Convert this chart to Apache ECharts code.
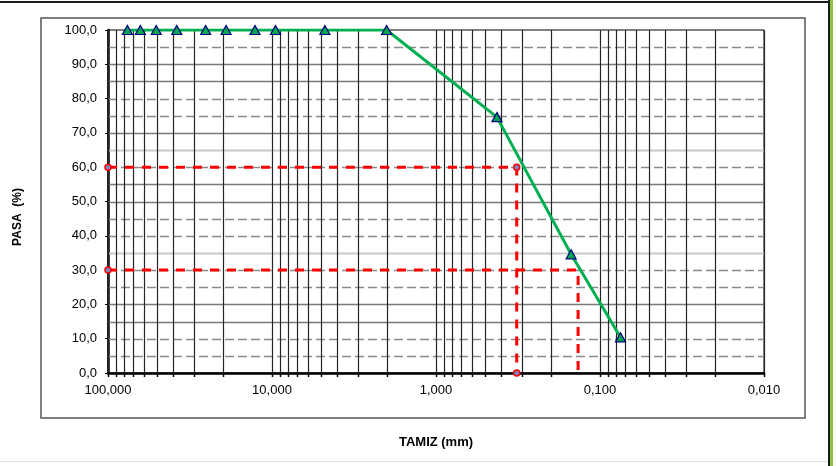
<!DOCTYPE html>
<html>
<head>
<meta charset="utf-8">
<script src="https://cdn.jsdelivr.net/npm/echarts@6/dist/echarts.min.js"></script>
<style>
  html, body { margin: 0; padding: 0; background: #fff; }
  #chart { width: 836px; height: 466px; }
</style>
</head>
<body>
<div id="chart"></div>
<script>
// Sieve openings (mm) and cumulative percent passing
const sieveSizes = [76.2, 63.5, 50.8, 38.1, 25.4, 19.05, 12.7, 9.52, 4.76, 2.0, 0.425, 0.15, 0.075];
const passing    = [100, 100, 100, 100, 100, 100, 100, 100, 100, 100, 74.6, 34.6, 10.4];

// Characteristic diameters read on the curve
const d60 = 0.322;
const d30 = 0.136;

// Horizontal reference levels and their line style
const dashedLevels = [95, 80, 75, 60, 45, 40, 30, 25, 10, 5];
const solidLevels  = [90, 85, 70, 55, 50, 20, 15];
const lightLevels  = [65, 35];

// Log-cycle grid: 1..9 x 10^k between 0.01 and 100 mm
const gridX = [];
for (let k = -2; k <= 1; k++) {
  for (let m = 1; m <= 9; m++) gridX.push(+(m * Math.pow(10, k)).toPrecision(3));
}
gridX.push(100);

const hLines = []
  .concat(dashedLevels.map(v => [1, v, 0]))
  .concat(solidLevels.map(v => [1, v, 1]))
  .concat(lightLevels.map(v => [1, v, 2]));

const comma = (v, d) => Number(v).toFixed(d).replace('.', ',');

const chart = echarts.init(document.getElementById('chart'), null, { renderer: 'canvas' });

const option = {
  animation: false,
  backgroundColor: '#ffffff',
  textStyle: { fontFamily: 'Liberation Sans, Arial, sans-serif' },
  grid: {
    left: 108, right: 72, top: 30, bottom: 93,
    show: true, borderColor: '#000', borderWidth: 1, backgroundColor: 'transparent'
  },
  xAxis: {
    type: 'log', logBase: 10, min: 0.01, max: 100, inverse: true, splitNumber: 4,
    axisLine: { show: true, onZero: false, lineStyle: { color: '#000', width: 2.5 } },
    axisTick: { show: false },
    splitLine: { show: false },
    axisLabel: {
      color: '#000', fontSize: 13, margin: 11,
      formatter: v => comma(v, 3)
    }
  },
  yAxis: {
    type: 'value', min: 0, max: 100, interval: 10,
    axisLine: { show: true, lineStyle: { color: '#000', width: 2.5 } },
    axisTick: { show: true, inside: false, length: 3, lineStyle: { color: '#000', width: 1 } },
    splitLine: { show: false },
    axisLabel: { color: '#000', fontSize: 13, margin: 11, formatter: v => comma(v, 1) }
  },
  graphic: [
    // outer frame
    { type: 'line', shape: { x1: 0, y1: 2, x2: 830, y2: 2 }, style: { stroke: '#1a1a1a', lineWidth: 2 }, z: 100 },
    { type: 'line', shape: { x1: 829, y1: 0, x2: 829, y2: 466 }, style: { stroke: '#1a1a1a', lineWidth: 2 }, z: 100 },
    { type: 'rect', shape: { x: 830, y: 0, width: 3, height: 466 }, style: { fill: '#8cc63f' }, z: 100 },
    { type: 'line', shape: { x1: 0, y1: 461.5, x2: 828, y2: 461.5 }, style: { stroke: '#e0e0e0', lineWidth: 1 }, z: 100 },
    // chart area frame
    { type: 'rect', shape: { x: 41, y: 18, width: 764, height: 400 }, style: { fill: 'none', stroke: '#555', lineWidth: 1.5 }, z: 100 },
    // axis titles
    { type: 'text', x: 18, y: 217, rotation: Math.PI / 2,
      style: { text: 'PASA  (%)', font: 'bold 12px Liberation Sans, Arial, sans-serif', fill: '#000', align: 'center', verticalAlign: 'middle' }, z: 100 },
    { type: 'text', x: 436, y: 442,
      style: { text: 'TAMIZ (mm)', font: 'bold 13px Liberation Sans, Arial, sans-serif', fill: '#000', align: 'center', verticalAlign: 'middle' }, z: 100 }
  ],
  series: [
    {
      // horizontal reference lines
      type: 'custom', z: 1, silent: true,
      data: hLines,
      encode: { x: 0, y: 1 },
      renderItem(params, api) {
        const cs = params.coordSys;
        const y = Math.round(api.coord([1, api.value(1)])[1]) + 0.5;
        const kind = api.value(2);
        const style = kind === 0
          ? { stroke: '#8a8a8a', lineWidth: 1.5, lineDash: [9, 4] }
          : kind === 1 ? { stroke: '#7a7a7a', lineWidth: 1.5 }
          : { stroke: '#c8c8c8', lineWidth: 2 };
        return { type: 'line', shape: { x1: cs.x, y1: y, x2: cs.x + cs.width, y2: y }, style };
      }
    },
    {
      // log-cycle vertical lines with ticks below the axis
      type: 'custom', z: 2, silent: true,
      data: gridX.map(v => [v, 0]),
      encode: { x: 0, y: 1 },
      renderItem(params, api) {
        const v = api.value(0);
        const top = api.coord([v, 100]);
        const bot = api.coord([v, 0]);
        const x = Math.round(top[0]) + 0.5;
        return {
          type: 'group',
          children: [
            { type: 'line', shape: { x1: x, y1: top[1], x2: x, y2: bot[1] }, style: { stroke: '#262626', lineWidth: 1.2 } },
            { type: 'line', shape: { x1: x, y1: bot[1], x2: x, y2: bot[1] + 4 }, style: { stroke: '#000', lineWidth: 1.5 } }
          ]
        };
      }
    },
    {
      name: 'D60', type: 'line', z: 5, silent: true,
      data: [[100, 60], [d60, 60], [d60, 0]],
      symbol: 'circle', symbolSize: 6,
      itemStyle: { color: '#7b84c4', borderColor: '#ff0000', borderWidth: 1.5 },
      lineStyle: { color: '#ff0000', width: 3, type: [9, 8] }
    },
    {
      name: 'D30', type: 'line', z: 5, silent: true,
      data: [{ value: [100, 30] }, { value: [d30, 30], symbol: 'none' }, { value: [d30, 0], symbol: 'none' }],
      symbol: 'circle', symbolSize: 6,
      itemStyle: { color: '#7b84c4', borderColor: '#ff0000', borderWidth: 1.5 },
      lineStyle: { color: '#ff0000', width: 3, type: [9, 8] }
    },
    {
      name: 'Granulometría', type: 'line', z: 10, silent: true,
      data: sieveSizes.map((s, i) => [s, passing[i]]),
      symbol: 'triangle', symbolSize: [10, 9],
      itemStyle: { color: '#00a650', borderColor: '#000080', borderWidth: 1.2 },
      lineStyle: { color: '#00b050', width: 3 }
    }
  ]
};

chart.setOption(option);
</script>
</body>
</html>
